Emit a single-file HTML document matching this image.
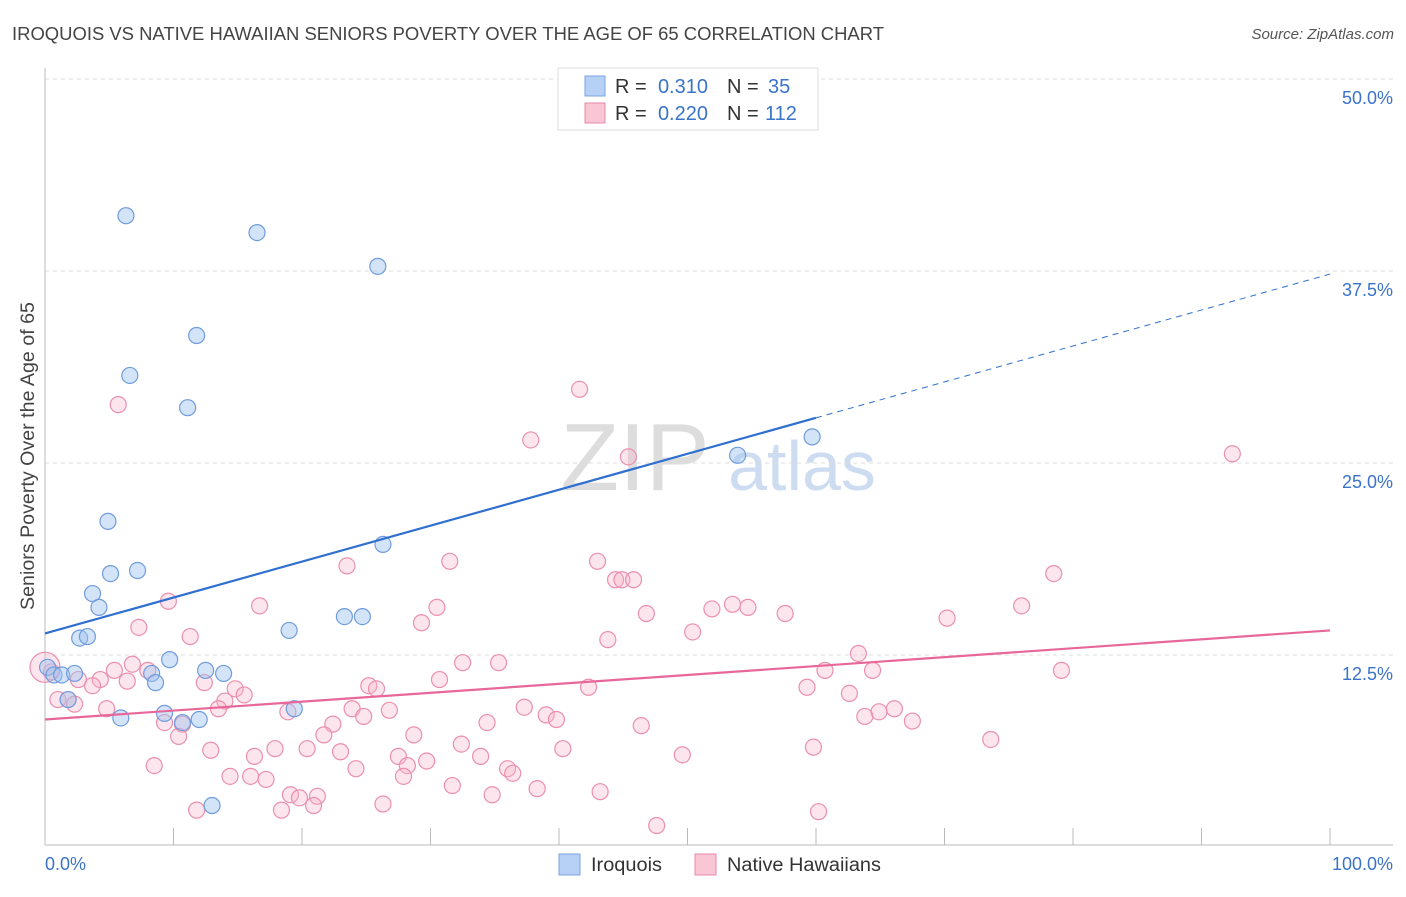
<!DOCTYPE html>
<html><head><meta charset="utf-8"><style>
body{margin:0;background:#fff;font-family:"Liberation Sans",sans-serif;}
svg text{font-family:"Liberation Sans",sans-serif;}
</style></head><body>
<svg id="chart" width="1406" height="892">
<text x="12" y="40" font-size="18" fill="#444" textLength="872" lengthAdjust="spacingAndGlyphs">IROQUOIS VS NATIVE HAWAIIAN SENIORS POVERTY OVER THE AGE OF 65 CORRELATION CHART</text>
<text x="1394" y="39" font-size="15" fill="#555" font-style="italic" text-anchor="end">Source: ZipAtlas.com</text>
<g>
<text x="635" y="490" font-size="96" font-family="Liberation Serif" fill="#ddd" text-anchor="middle">ZIP</text>
<text x="802" y="490" font-size="70" fill="#cddcf0" text-anchor="middle">atlas</text>
</g>
<text transform="translate(34,456) rotate(-90)" font-size="19" fill="#444" text-anchor="middle" textLength="308" lengthAdjust="spacingAndGlyphs">Seniors Poverty Over the Age of 65</text>
<g id="grid"></g><g id="axes"></g><g id="marks"></g>
<g>
<rect x="558" y="68" width="260" height="62" fill="#fff" stroke="#ddd"/>
<rect x="585" y="76" width="20" height="20" fill="#b7d0f5" stroke="#7aa5e0"/>
<rect x="585" y="103" width="20" height="20" fill="#f9c6d5" stroke="#e88aa8"/>
<text x="615" y="93" font-size="20" fill="#333">R =</text>
<text x="708" y="93" font-size="20" fill="#3a73c8" text-anchor="end">0.310</text>
<text x="727" y="93" font-size="20" fill="#333">N =</text>
<text x="768" y="93" font-size="20" fill="#3a73c8">35</text>
<text x="615" y="120" font-size="20" fill="#333">R =</text>
<text x="708" y="120" font-size="20" fill="#3a73c8" text-anchor="end">0.220</text>
<text x="727" y="120" font-size="20" fill="#333">N =</text>
<text x="765" y="120" font-size="20" fill="#3a73c8">112</text>
</g>
<g>
<rect x="559" y="854" width="21" height="21" fill="#b7d0f5" stroke="#7aa5e0"/>
<text x="591" y="871" font-size="19" fill="#333" textLength="71" lengthAdjust="spacingAndGlyphs">Iroquois</text>
<rect x="695" y="854" width="21" height="21" fill="#f9c6d5" stroke="#e88aa8"/>
<text x="727" y="871" font-size="19" fill="#333" textLength="154" lengthAdjust="spacingAndGlyphs">Native Hawaiians</text>
</g>
</svg>
<script>
const yTicks=[12.5,25,37.5,50];
const yTickLabels=["12.5%","25.0%","37.5%","50.0%"];
const xTickLabels=["0.0%","100.0%"];
const blueX=[6.3,16.5,25.9,11.8,6.6,11.1,59.7,53.9,4.9,26.3,5.1,7.2,3.7,4.2,23.3,24.7,19.0,2.7,3.3,9.7,0.2,0.7,1.3,2.3,12.5,13.9,8.3,8.6,1.8,19.4,5.9,9.3,10.7,12.0,13.0];
const blueY=[41.1,40.0,37.8,33.3,30.7,28.6,26.7,25.5,21.2,19.7,17.8,18.0,16.5,15.6,15.0,15.0,14.1,13.6,13.7,12.2,11.7,11.2,11.2,11.3,11.5,11.3,11.3,10.7,9.6,9.0,8.4,8.7,8.1,8.3,2.7];
const pinkX=[41.6,5.7,37.8,45.4,92.4,43.0,31.5,23.5,44.4,44.9,45.8,78.5,9.6,16.7,30.5,51.9,53.5,54.7,57.6,46.8,76.0,70.2,29.3,7.3,50.4,11.3,43.8,63.3,32.5,35.3,64.4,60.7,79.1,0.5,0.0,5.4,6.8,8.0,2.6,4.3,3.7,6.4,12.4,25.2,25.8,30.7,42.3,59.3,14.8,15.5,62.6,1.0,1.8,2.3,14.0,4.8,13.5,18.9,23.9,26.8,37.3,39.0,39.8,24.8,66.1,64.9,63.8,67.5,9.3,10.7,22.4,34.4,46.4,10.4,21.7,28.7,73.6,32.4,40.3,59.8,12.9,17.9,20.4,23.0,16.3,27.5,33.9,29.7,49.6,28.2,8.5,24.2,36.0,36.4,14.4,16.0,17.2,27.9,31.7,38.3,19.1,21.2,19.8,34.8,43.2,26.3,20.9,11.8,18.4,60.2,47.6];
const pinkY=[29.8,28.8,26.5,25.4,25.6,18.6,18.6,18.3,17.4,17.4,17.4,17.8,16.0,15.7,15.6,15.5,15.8,15.6,15.2,15.2,15.7,14.9,14.6,14.3,14.0,13.7,13.5,12.6,12.0,12.0,11.5,11.5,11.5,11.4,11.7,11.5,11.9,11.5,10.9,10.9,10.5,10.8,10.7,10.5,10.3,10.9,10.4,10.4,10.3,9.9,10.0,9.6,9.6,9.3,9.5,9.0,9.0,8.8,9.0,8.9,9.1,8.6,8.3,8.5,9.0,8.8,8.5,8.2,8.1,8.0,8.0,8.1,7.9,7.2,7.3,7.3,7.0,6.7,6.4,6.5,6.3,6.4,6.4,6.2,5.9,5.9,5.9,5.6,6.0,5.3,5.3,5.1,5.1,4.8,4.6,4.6,4.4,4.6,4.0,3.8,3.4,3.3,3.2,3.4,3.6,2.8,2.7,2.4,2.4,2.3,1.4];
const blueTrend=[13.9,37.3];
const pinkTrend=[8.3,14.1];
const blueSolidEnd=60;

const NS="http://www.w3.org/2000/svg";
const X=v=>45+v*12.85;
const Y=v=>847-v*15.36;
function mk(tag,attrs,parent){const e=document.createElementNS(NS,tag);for(const k in attrs)e.setAttribute(k,attrs[k]);document.getElementById(parent).appendChild(e);return e;}
yTicks.forEach((t,i)=>{
 const g=mk('line',{x1:45,x2:1393,y1:Y(t),y2:Y(t),stroke:'#ddd','stroke-dasharray':'4,4'},'grid');
 
 
 const l=mk('text',{x:1393,y:Y(t)+25,'font-size':18,fill:'#3a73c8','text-anchor':'end'},'grid');
 l.textContent=yTickLabels[i];
 
 
});
const ax=mk('line',{x1:45,x2:45,y1:68,y2:845,stroke:'#bbb'},'axes');


const bx=mk('line',{x1:45,x2:1393,y1:845,y2:845,stroke:'#bbb'},'axes');


for(let i=1;i<=10;i++){const t=mk('line',{x1:X(i*10),x2:X(i*10),y1:828,y2:845,stroke:'#bbb'},'axes');
 
 }
[[0,'start',45],[100,'end',1393]].forEach((d,i)=>{const t=mk('text',{x:d[2],y:870,'font-size':18,fill:'#3a73c8','text-anchor':d[1]},'axes');t.textContent=xTickLabels[i];
 
 });
pinkX.forEach((x,i)=>{const c=mk('circle',{cx:X(x),cy:Y(pinkY[i]),r:(i==34?15:8),fill:'rgba(246,180,200,0.35)',stroke:'#eb8fae','stroke-width':1.2},'marks');
 
 });
blueX.forEach((x,i)=>{const c=mk('circle',{cx:X(x),cy:Y(blueY[i]),r:8,fill:'rgba(160,195,240,0.45)',stroke:'#6f9cdc','stroke-width':1.2},'marks');
 
 });
const by=v=>blueTrend[0]+(blueTrend[1]-blueTrend[0])*v/100;
const l1=mk('line',{x1:X(0),y1:Y(by(0)),x2:X(blueSolidEnd),y2:Y(by(blueSolidEnd)),stroke:'#2f6fd0','stroke-width':2.2},'marks');


const l2=mk('line',{x1:X(blueSolidEnd),y1:Y(by(blueSolidEnd)),x2:X(100),y2:Y(by(100)),stroke:'#2f6fd0','stroke-width':1,'stroke-dasharray':'6,5'},'marks');


const l3=mk('line',{x1:X(0),y1:Y(pinkTrend[0]),x2:X(100),y2:Y(pinkTrend[1]),stroke:'#e8679a','stroke-width':2.2},'marks');


</script>
</body></html>
